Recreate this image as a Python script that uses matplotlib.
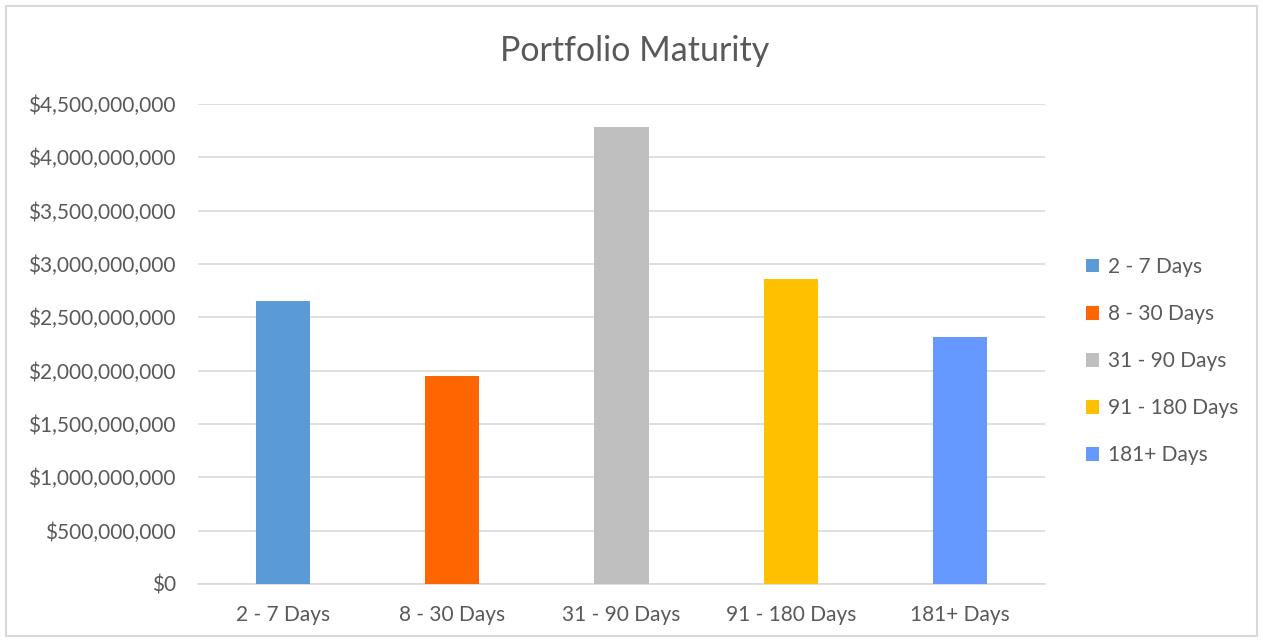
import matplotlib.pyplot as plt
from matplotlib.patches import Rectangle, Patch
from matplotlib.ticker import FuncFormatter

categories = ['2 - 7 Days', '8 - 30 Days', '31 - 90 Days', '91 - 180 Days', '181+ Days']
values = [2653000000, 1950000000, 4287000000, 2859000000, 2319000000]
colors = ['#5B9BD5', '#FF6600', '#BFBFBF', '#FFC000', '#6699FF']
y_ticks = [i * 500000000 for i in range(10)]

plt.rcParams['font.family'] = ['Lato', 'DejaVu Sans']
text_color = '#595959'
grid_color = '#D9D9D9'

fig = plt.figure(figsize=(12.63, 6.42), dpi=100)
ax = fig.add_axes([198 / 1263, 1 - 584 / 642, (1045 - 198) / 1263, (584 - 104) / 642])

x = range(len(categories))
ax.bar(x, values, width=0.32, color=colors, zorder=3)

ax.set_xlim(-0.5, len(categories) - 0.5)
ax.set_ylim(0, 4500000000)
ax.set_yticks(y_ticks)
ax.yaxis.set_major_formatter(FuncFormatter(lambda v, p: '${:,.0f}'.format(v)))
ax.set_xticks(list(x))
ax.set_xticklabels(categories)
ax.tick_params(axis='both', length=0, labelsize=15, colors=text_color)
ax.tick_params(axis='x', pad=15)
ax.tick_params(axis='y', pad=16)
ax.grid(axis='y', color=grid_color, linewidth=1.2, zorder=0)

for side in ['top', 'right', 'left']:
    ax.spines[side].set_visible(False)
ax.spines['bottom'].set_color(grid_color)
ax.spines['bottom'].set_linewidth(1.2)

fig.suptitle('Portfolio Maturity', x=635 / 1263, y=1 - 51 / 642, va='center',
             fontsize=24.5, color=text_color)

handles = [Patch(facecolor=c, label=l) for c, l in zip(colors, categories)]
fig.legend(handles=handles, loc='center left', bbox_to_anchor=(1067 / 1263, 1 - 361 / 642),
           frameon=False, fontsize=15, labelcolor=text_color, handlelength=0.65,
           handleheight=0.65, handletextpad=0.4, labelspacing=1.3)

fig.patches.append(Rectangle((6 / 1263, 6 / 642), 1 - 12 / 1263, 1 - 12 / 642,
                             transform=fig.transFigure, fill=False,
                             edgecolor=grid_color, linewidth=1.5))

fig.savefig('out.png', dpi=100)
